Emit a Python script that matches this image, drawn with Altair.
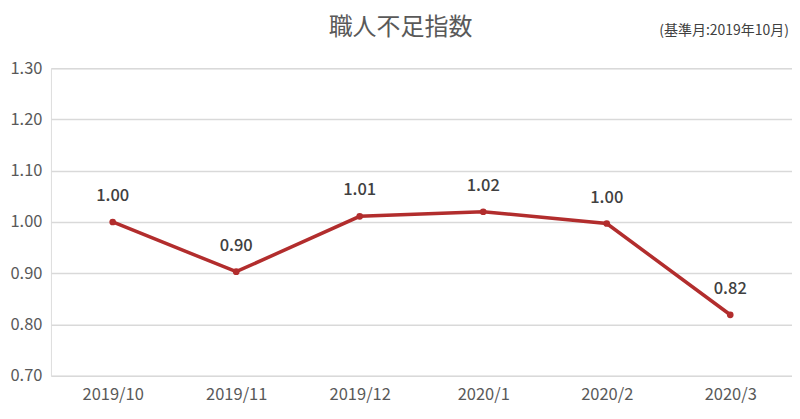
import altair as alt
import pandas as pd

months = ["2019/10", "2019/11", "2019/12", "2020/1", "2020/2", "2020/3"]
values = [1.000, 0.903, 1.011, 1.020, 0.997, 0.819]
title_text = "職人不足指数"
note_text = "(基準月:2019年10月)"

df = pd.DataFrame({"month": months, "value": values})
FONT = "Noto Sans CJK JP"

x = alt.X("month:N", sort=months, scale=alt.Scale(paddingInner=0, paddingOuter=0),
          axis=alt.Axis(title=None, labelAngle=0, labelFontSize=16.5, labelColor="#595959",
                        labelFont=FONT, labelPadding=11, domain=False, ticks=False, grid=False))
y = alt.Y("value:Q", scale=alt.Scale(domain=[0.7, 1.3], nice=False, zero=False),
          axis=alt.Axis(title=None, values=[0.7, 0.8, 0.9, 1.0, 1.1, 1.2, 1.3], format=".2f",
                        labelFontSize=16.5, labelColor="#595959", labelFont=FONT, labelPadding=9,
                        domain=False, ticks=False, gridColor="#d9d9d9", gridWidth=1.5))

base = alt.Chart(df)
line = base.mark_line(color="#b22d2d", strokeWidth=3.5).encode(x=x, y=y)
pts = base.mark_circle(color="#b22d2d", size=45, opacity=1).encode(x=x, y=y)
labels = base.mark_text(dy=-26, fontSize=16.5, color="#404040", font=FONT, fontWeight=500).encode(
    x=x, y=y, text=alt.Text("value:Q", format=".2f"))

title = alt.Chart(pd.DataFrame({"t": [title_text]})).mark_text(
    fontSize=24, color="#595959", font=FONT, align="center", baseline="middle").encode(
    x=alt.value(350), y=alt.value(-40), text="t:N")
note = alt.Chart(pd.DataFrame({"t": [note_text]})).mark_text(
    fontSize=14, color="#404040", font=FONT, align="right", baseline="middle").encode(
    x=alt.value(739), y=alt.value(-37), text="t:N")

chart = alt.layer(line, pts, labels, title, note).properties(
    width=742, height=308,
    autosize=alt.AutoSizeParams(type="none"),
    padding={"left": 43, "top": 60, "right": 0, "bottom": 35},
).configure_view(stroke=None).configure(background="white")

chart.save("out.html", embed_options={"renderer": "svg", "actions": False})
